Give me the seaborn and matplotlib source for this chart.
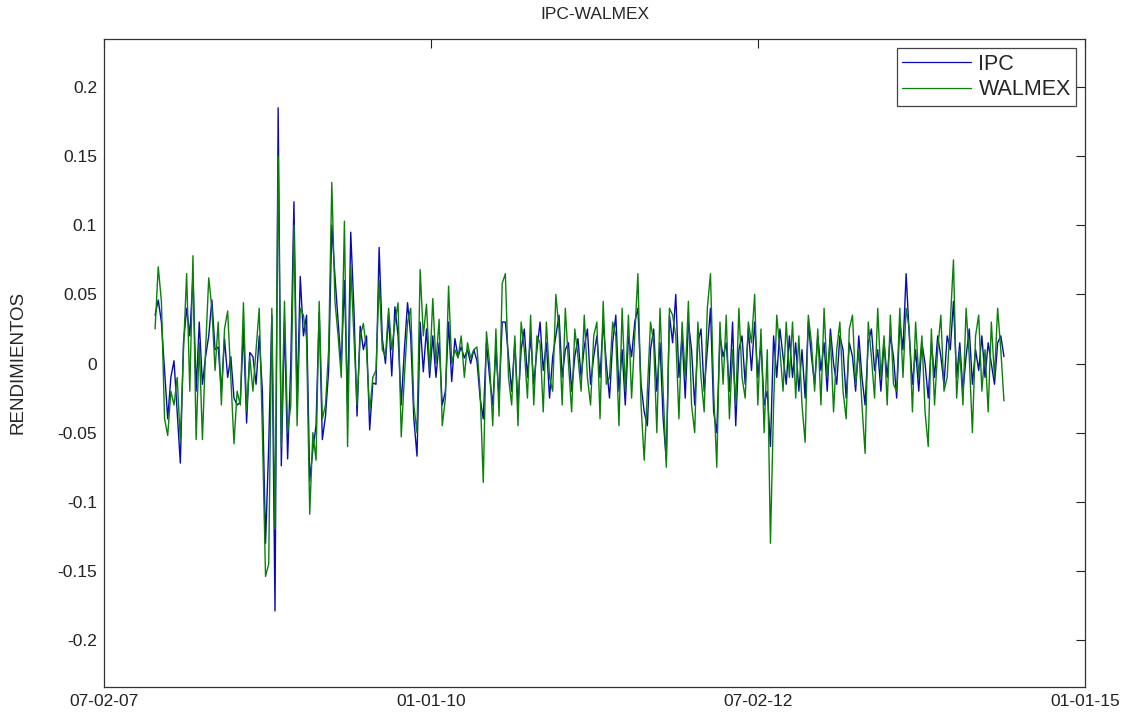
import numpy as np
import pandas as pd
import matplotlib
matplotlib.use("Agg")
import matplotlib.pyplot as plt
import seaborn as sns

# Weekly returns (approximate)
IPC = [
    0.035, 0.046, 0.030, -0.005, -0.040, -0.010, 0.002, -0.035, -0.072, 0.015,
    0.040, 0.020, 0.063, -0.020, 0.030, -0.015, 0.005, 0.020, 0.046, 0.010,
    0.012, -0.020, 0.018, -0.010, 0.005, -0.025, -0.030, -0.028, 0.025, -0.043,
    0.008, 0.005, -0.015, 0.020,
    -0.020, -0.130, -0.060, 0.035, -0.179, 0.185, -0.074, 0.030, -0.069, 0.000,
    0.117, -0.030, 0.063, 0.020, 0.035, -0.085, -0.062, -0.045, 0.037, -0.055,
    -0.038, -0.005, 0.100, 0.063, 0.030, -0.002, 0.060, -0.030, 0.095, 0.040,
    -0.038, 0.027, 0.010, 0.020, -0.048, -0.014, -0.015, 0.084, 0.018, 0.000,
    0.035, -0.009, 0.041, 0.020, -0.030, 0.010, 0.044, 0.020, -0.040, -0.067,
    0.030, -0.006, 0.025, -0.010, 0.020, -0.010, 0.015, -0.030, -0.020, 0.030,
    -0.013, 0.018, 0.005, 0.012, 0.004, 0.010, 0.000, 0.010, 0.002, -0.025,
    -0.040, 0.015, -0.010, -0.030, 0.010, -0.025, 0.030,
    0.030, 0.005, -0.020, 0.015, -0.030, 0.010, 0.025, -0.010, 0.020, -0.015,
    0.010, 0.030, -0.005, 0.015, -0.025, 0.005, 0.020, 0.035, -0.010, 0.010,
    0.015, -0.020, 0.005, 0.018, -0.010, 0.012, 0.025, -0.015, 0.005, 0.020,
    -0.010, 0.030, 0.000, -0.025, 0.015, 0.035, -0.020, 0.010, -0.030, 0.020,
    0.005, 0.030, 0.040, -0.015, -0.035, -0.045, 0.010, 0.025, -0.020, 0.015,
    -0.040, -0.070, 0.035, 0.015, 0.050, -0.010, 0.020, -0.025, 0.030, 0.010,
    -0.030, 0.015, 0.025, -0.020, 0.010, 0.040, -0.035, -0.050, 0.020, 0.005,
    0.015, -0.020, 0.030, -0.045, 0.010, 0.020, -0.015, 0.025, -0.005, 0.030,
    -0.010, 0.015, -0.030, -0.020, -0.060, 0.020, -0.010, 0.025, 0.005, -0.015,
    0.020, -0.010, 0.015, -0.020, 0.010, -0.025, 0.030, 0.005, -0.015, 0.020,
    -0.005, 0.015, -0.020, 0.025, 0.000, -0.015, 0.020, 0.010, -0.025, 0.015,
    0.005, -0.020, 0.020, -0.010, -0.030, 0.015, 0.025, -0.005, 0.010, -0.020,
    0.015, -0.010, 0.020, 0.005, -0.025, 0.030, 0.010, 0.065, 0.020, -0.015,
    0.010, -0.020, 0.015, 0.000, -0.025, 0.015, -0.010, 0.020, 0.005, -0.015,
    0.020, 0.010, 0.045, -0.010, 0.015, -0.020, 0.005, 0.025, -0.015, 0.010,
    -0.005, 0.020, -0.010, 0.015, 0.000, -0.015, 0.015, 0.020, 0.005,
]

WALMEX = [
    0.025, 0.070, 0.045, -0.040, -0.052, -0.020, -0.030, -0.010, -0.056, 0.010,
    0.065, -0.020, 0.078, -0.055, 0.015, -0.055, 0.010, 0.062, 0.040, -0.005,
    0.030, -0.030, 0.025, 0.038, -0.010, -0.058, -0.020, -0.030, 0.044, -0.035,
    0.005, -0.020, 0.010, 0.040,
    -0.050, -0.154, -0.145, 0.040, -0.120, 0.150, -0.060, 0.045, -0.050, -0.030,
    0.100, -0.045, 0.040, 0.035, 0.018, -0.109, -0.050, -0.070, 0.045, -0.040,
    -0.030, 0.010, 0.131, 0.045, 0.020, -0.010, 0.103, -0.060, 0.070, 0.020,
    -0.030, 0.020, 0.029, 0.010, -0.035, -0.010, -0.005, 0.060, 0.010, 0.005,
    0.040, 0.010, 0.030, 0.044, -0.053, -0.010, 0.030, 0.040, -0.030, -0.050,
    0.068, 0.020, 0.043, -0.005, 0.047, 0.000, 0.032, -0.045, -0.025, 0.056,
    0.000, 0.010, 0.004, 0.020, -0.010, 0.015, 0.004, 0.010, 0.012, -0.020,
    -0.086, 0.023, 0.000, -0.045, 0.025, -0.038, 0.058,
    0.065, -0.010, -0.030, 0.020, -0.045, 0.030, 0.010, -0.025, 0.035, -0.030,
    0.020, 0.015, -0.035, 0.030, -0.010, -0.020, 0.050, 0.025, -0.030, 0.040,
    0.000, -0.035, 0.025, 0.005, -0.020, 0.035, -0.010, -0.030, 0.020, 0.030,
    -0.040, 0.045, -0.015, -0.010, 0.030, 0.020, -0.045, 0.040, -0.020, 0.035,
    -0.025, 0.020, 0.065, -0.030, -0.070, -0.020, 0.030, 0.015, -0.050, 0.040,
    -0.020, -0.075, 0.040, 0.035, 0.020, -0.040, 0.030, -0.010, 0.045, -0.030,
    -0.050, 0.030, -0.010, -0.035, 0.040, 0.065, -0.020, -0.075, 0.030, -0.015,
    0.035, -0.040, 0.010, -0.030, 0.040, -0.010, -0.025, 0.030, 0.015, 0.050,
    -0.030, 0.025, -0.050, 0.010, -0.130, -0.030, 0.035, 0.010, -0.020, 0.030,
    -0.010, 0.030, -0.025, 0.020, -0.030, -0.057, 0.035, 0.015, -0.020, 0.025,
    -0.030, 0.040, -0.010, 0.020, -0.035, 0.010, 0.030, -0.020, -0.040, 0.025,
    0.035, -0.015, 0.010, -0.030, -0.065, 0.030, 0.005, -0.025, 0.040, -0.010,
    0.020, -0.030, 0.035, -0.015, -0.020, 0.040, -0.010, 0.040, 0.025, -0.035,
    0.030, -0.010, 0.020, -0.035, -0.060, 0.025, -0.030, 0.010, 0.035, -0.020,
    -0.010, 0.030, 0.075, -0.025, 0.010, -0.030, 0.040, 0.005, -0.050, 0.020,
    0.035, -0.020, 0.010, -0.035, 0.030, -0.010, 0.040, 0.010, -0.027,
]

X_TICK_LABELS = ["07-02-07", "01-01-10", "07-02-12", "01-01-15"]
Y_TICKS = [-0.2, -0.15, -0.1, -0.05, 0, 0.05, 0.1, 0.15, 0.2]
Y_TICK_LABELS = ["-0.2", "-0.15", "-0.1", "-0.05", "0", "0.05", "0.1", "0.15", "0.2"]

sns.set_style("white")
plt.rcParams["font.family"] = ["Liberation Sans", "DejaVu Sans"]

n = len(IPC)
df = pd.DataFrame({
    "semana": np.concatenate([np.arange(n), np.arange(len(WALMEX))]),
    "rend": IPC + WALMEX,
    "serie": ["IPC"] * n + ["WALMEX"] * len(WALMEX),
})

fig = plt.figure(figsize=(11.4, 7.21), dpi=100)
ax = fig.add_axes([0.0912, 0.0472, 0.8606, 0.8991])

sns.lineplot(data=df, x="semana", y="rend", hue="serie",
             palette={"IPC": "#0a0ab4", "WALMEX": "#0a800a"},
             estimator=None, sort=False, linewidth=1.0, ax=ax)

x_min, x_max = -16.2, 294.7
ax.set_xlim(x_min, x_max)
ax.set_ylim(-0.234, 0.235)
ax.set_xticks(np.linspace(x_min, x_max, 4))
ax.set_xticklabels(X_TICK_LABELS)
ax.set_yticks(Y_TICKS)
ax.set_yticklabels(Y_TICK_LABELS)
ax.tick_params(direction="in", length=6.5, width=0.8, top=True, right=True,
               labelsize=12.5, pad=5, colors="#222222")
for s in ax.spines.values():
    s.set_color("#333333")
    s.set_linewidth(0.9)

ax.set_xlabel("")
ax.set_ylabel("RENDIMIENTOS", fontsize=13.5, labelpad=22)
ax.set_title("IPC-WALMEX", fontsize=12.5, pad=14)

leg = ax.legend(loc="upper right", bbox_to_anchor=(0.991, 0.985), borderaxespad=0,
                fontsize=15.5, handlelength=3.2, handletextpad=0.35,
                labelspacing=0.2, borderpad=0.25, fancybox=False, framealpha=1)
leg.get_frame().set_edgecolor("#444444")
leg.get_frame().set_linewidth(0.9)
for line in leg.get_lines():
    line.set_linewidth(0.9)

fig.savefig("out.png", dpi=100)
